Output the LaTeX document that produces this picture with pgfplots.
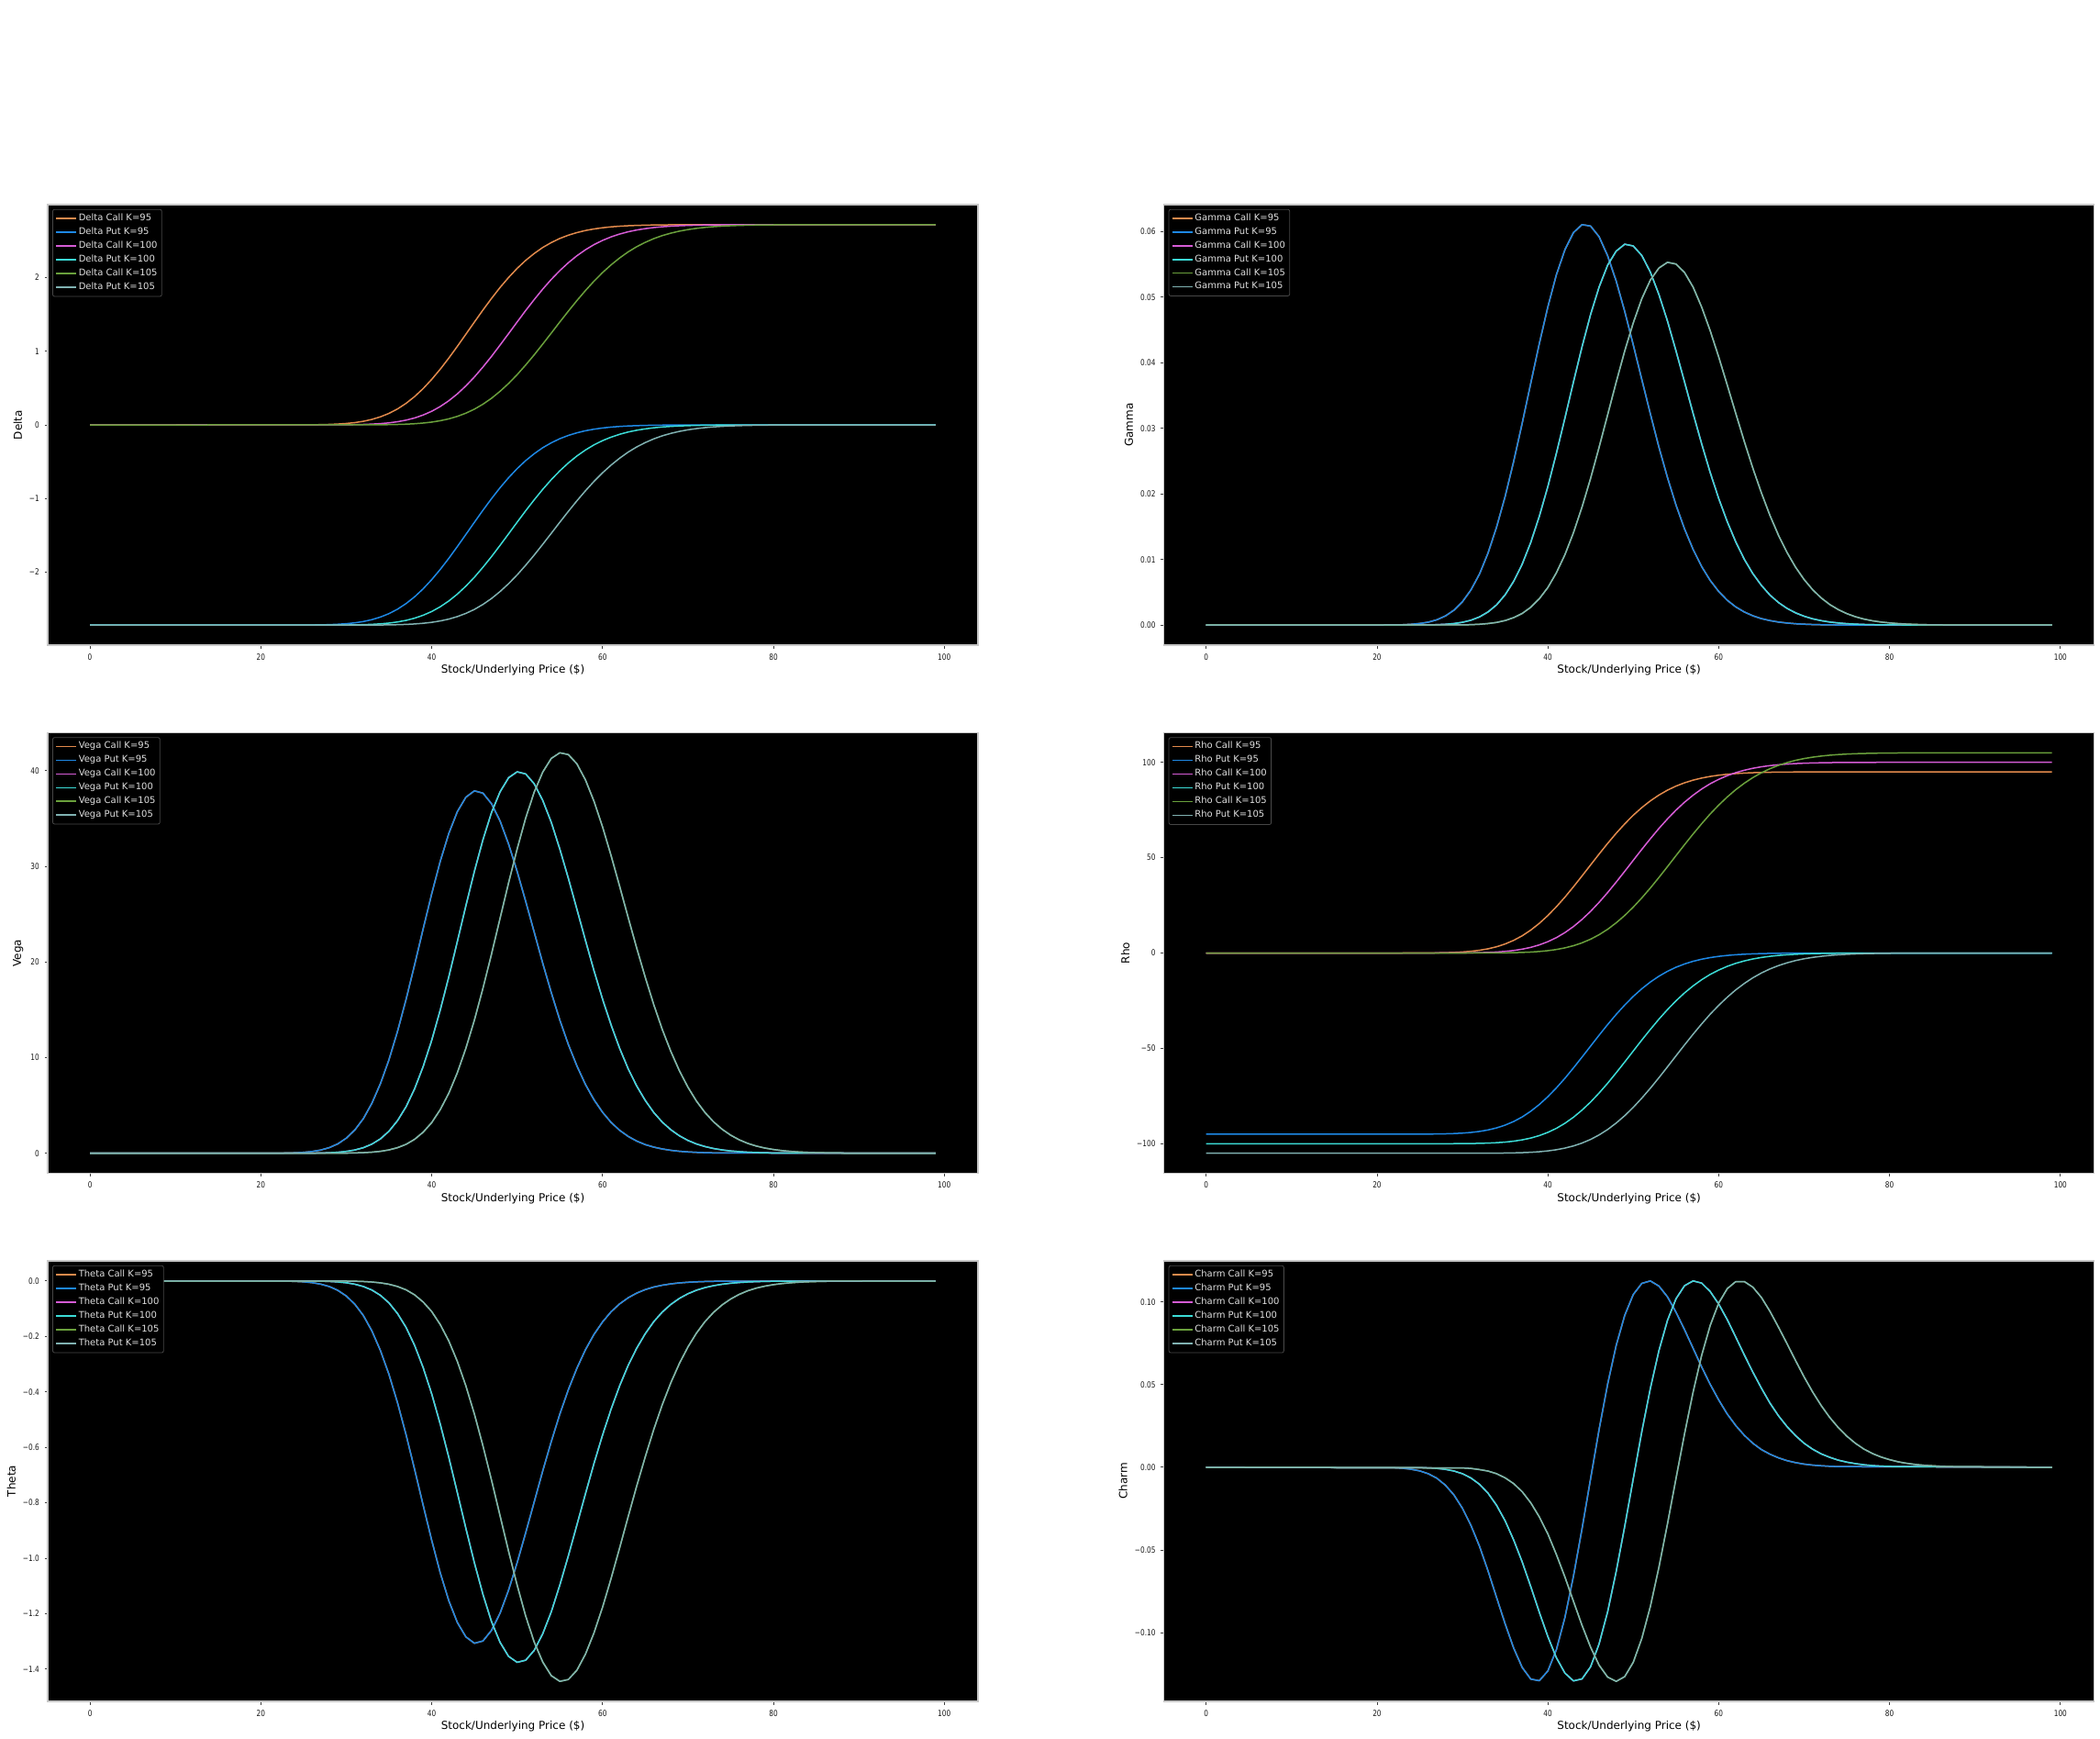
\documentclass[border=0pt]{standalone}
\usepackage{fontspec}
\setmainfont{DejaVu Sans}
\usepackage{pgfplots}
\usepackage{pgfplotstable}
\pgfplotsset{compat=1.18}

\definecolor{c1}{RGB}{226,138,76}
\definecolor{p1}{RGB}{30,136,229}
\definecolor{c2}{RGB}{214,92,214}
\definecolor{p2}{RGB}{60,220,215}
\definecolor{c3}{RGB}{106,160,60}
\definecolor{p3}{RGB}{128,178,178}

\newcommand\tickfont{\fontsize{4.6pt}{5pt}\selectfont}
\newcommand\legfont{\fontsize{5pt}{6pt}\selectfont}
\newcommand\labfont{\fontsize{6pt}{7pt}\selectfont}

% columns: x, delta call, delta put, gamma, vega, theta, rho call, rho put, charm
\pgfplotstableread{
x dc dp g v th rc rp ch
0 0 -2.7183 0 0 0 0 -95 0
22 0.0001 -2.7182 0.00003 0.010 -0.0004 0.003 -94.997 -0.0003
23 0.0002 -2.7181 0.00006 0.023 -0.0008 0.006 -94.994 -0.0006
24 0.0005 -2.7178 0.00013 0.048 -0.0017 0.012 -94.988 -0.0012
25 0.0010 -2.7173 0.00025 0.095 -0.0033 0.026 -94.974 -0.0022
26 0.0019 -2.7164 0.00045 0.181 -0.0062 0.051 -94.949 -0.0039
27 0.0036 -2.7147 0.00081 0.332 -0.0115 0.100 -94.900 -0.0066
28 0.0066 -2.7117 0.00139 0.583 -0.0201 0.186 -94.814 -0.0108
29 0.0115 -2.7068 0.00227 0.976 -0.0337 0.326 -94.674 -0.0167
30 0.0192 -2.6991 0.00356 1.574 -0.0543 0.554 -94.446 -0.0248
31 0.0312 -2.6871 0.00537 2.433 -0.0839 0.910 -94.090 -0.0352
32 0.0488 -2.6695 0.00779 3.615 -0.1247 1.442 -93.558 -0.0478
33 0.0743 -2.6440 0.01099 5.225 -0.1803 2.211 -92.789 -0.0627
34 0.1097 -2.6086 0.01495 7.279 -0.2511 3.287 -91.713 -0.0788
35 0.1561 -2.5622 0.01961 9.776 -0.3373 4.750 -90.250 -0.0947
36 0.2166 -2.5017 0.02496 12.74 -0.4394 6.652 -88.348 -0.1094
37 0.2925 -2.4258 0.03079 16.08 -0.5548 9.044 -85.956 -0.1211
38 0.3845 -2.3338 0.03687 19.70 -0.6797 12.03 -82.97 -0.1281
39 0.4929 -2.2254 0.04290 23.45 -0.8089 15.56 -79.44 -0.1291
40 0.6177 -2.1006 0.04850 27.11 -0.9352 19.66 -75.34 -0.1232
41 0.7559 -1.9624 0.05340 30.51 -1.0526 24.28 -70.72 -0.1103
42 0.9063 -1.8120 0.05722 33.42 -1.1530 29.31 -65.69 -0.0908
43 1.0660 -1.6523 0.05983 35.70 -1.2317 34.77 -60.23 -0.0658
44 1.2306 -1.4877 0.06103 37.21 -1.2837 40.42 -54.58 -0.0372
45 1.3960 -1.3223 0.06082 37.88 -1.3068 46.17 -48.83 -0.0070
46 1.5597 -1.1586 0.05919 37.64 -1.2986 51.92 -43.08 0.0229
47 1.7163 -1.0020 0.05628 36.54 -1.2605 57.49 -37.51 0.0503
48 1.8650 -0.8533 0.05243 34.74 -1.1986 62.81 -32.19 0.0737
49 2.0008 -0.7175 0.04780 32.32 -1.1152 67.74 -27.26 0.0919
50 2.1243 -0.5940 0.04270 29.47 -1.0165 72.27 -22.73 0.1045
51 2.2331 -0.4852 0.03742 26.34 -0.9087 76.27 -18.73 0.1112
52 2.3269 -0.3914 0.03219 23.11 -0.7972 79.80 -15.20 0.1127
53 2.4084 -0.3099 0.02713 19.86 -0.6852 82.83 -12.17 0.1096
54 2.4752 -0.2431 0.02250 16.79 -0.5792 85.40 -9.60 0.1031
55 2.5310 -0.1873 0.01830 13.92 -0.4802 87.54 -7.46 0.0938
56 2.5754 -0.1429 0.01466 11.36 -0.3921 89.26 -5.74 0.0832
57 2.6108 -0.1075 0.01155 9.126 -0.3148 90.66 -4.34 0.0720
58 2.6389 -0.0794 0.00893 7.187 -0.2480 91.75 -3.25 0.0607
59 2.6599 -0.0584 0.00682 5.591 -0.1929 92.60 -2.40 0.0502
60 2.6761 -0.0422 0.00513 4.286 -0.1479 93.25 -1.75 0.0407
61 2.6883 -0.0300 0.00379 3.223 -0.1112 93.74 -1.26 0.0322
62 2.6971 -0.0212 0.00277 2.399 -0.0828 94.11 -0.89 0.0252
63 2.7035 -0.0148 0.00200 1.762 -0.0608 94.37 -0.63 0.0193
64 2.7080 -0.0103 0.00142 1.271 -0.0439 94.56 -0.44 0.0145
65 2.7113 -0.0070 0.00099 0.904 -0.0312 94.70 -0.30 0.0107
66 2.7137 -0.0046 0.00069 0.639 -0.0220 94.80 -0.20 0.0079
67 2.7152 -0.0031 0.00047 0.447 -0.0154 94.87 -0.13 0.0057
68 2.7163 -0.0020 0.00032 0.307 -0.0106 94.91 -0.09 0.0040
69 2.7170 -0.0013 0.00021 0.205 -0.0071 94.94 -0.06 0.0028
70 2.7174 -0.0009 0.00014 0.139 -0.0048 94.96 -0.04 0.0019
71 2.7177 -0.0006 0.00009 0.093 -0.0032 94.97 -0.03 0.0013
72 2.7179 -0.0004 0.00006 0.061 -0.0021 94.98 -0.02 0.0009
73 2.7181 -0.0002 0.00004 0.039 -0.0014 94.99 -0.01 0.0006
74 2.7182 -0.0001 0.00002 0.025 -0.0009 94.99 -0.01 0.0004
99 2.7183 0 0 0 0 95 0 0
}\Ka

\pgfplotstableread{
x dc dp g v th rc rp ch
0 0 -2.7183 0 0 0 0 -100 0
26 0.0001 -2.7182 0.00003 0.013 -0.0004 0.003 -99.997 -0.00034
27 0.0002 -2.7181 0.00007 0.027 -0.0009 0.007 -99.993 -0.00068
28 0.0005 -2.7178 0.00013 0.055 -0.0019 0.014 -99.986 -0.00127
29 0.0010 -2.7173 0.00024 0.103 -0.0036 0.028 -99.972 -0.00226
30 0.0019 -2.7164 0.00043 0.191 -0.0066 0.054 -99.946 -0.0039
31 0.0035 -2.7148 0.00075 0.341 -0.0118 0.101 -99.899 -0.0065
32 0.0063 -2.7120 0.00125 0.581 -0.0201 0.184 -99.816 -0.0103
33 0.0106 -2.7077 0.00201 0.954 -0.0329 0.319 -99.681 -0.0157
34 0.0173 -2.7010 0.00309 1.505 -0.0519 0.529 -99.471 -0.0230
35 0.0277 -2.6906 0.00462 2.302 -0.0794 0.845 -99.155 -0.0324
36 0.0431 -2.6752 0.00668 3.409 -0.1176 1.326 -98.674 -0.0440
37 0.0645 -2.6538 0.00930 4.859 -0.1676 2.020 -97.980 -0.0573
38 0.0940 -2.6243 0.01261 6.736 -0.2324 2.964 -97.036 -0.0722
39 0.1340 -2.5843 0.01658 9.061 -0.3126 4.260 -95.740 -0.0877
40 0.1846 -2.5337 0.02112 11.80 -0.4072 5.948 -94.052 -0.1024
41 0.2492 -2.4691 0.02619 14.965 -0.5163 8.070 -91.930 -0.1152
42 0.3274 -2.3909 0.03156 18.43 -0.6359 10.72 -89.28 -0.1245
43 0.4208 -2.2975 0.03707 22.12 -0.7632 13.89 -86.11 -0.1292
44 0.5291 -2.1892 0.04241 25.86 -0.8920 17.62 -82.38 -0.1280
45 0.6504 -2.0679 0.04733 29.47 -1.0168 21.85 -78.15 -0.1207
46 0.7856 -1.9327 0.05153 32.77 -1.1305 26.59 -73.41 -0.1068
47 0.9298 -1.7885 0.05486 35.61 -1.2287 31.72 -68.28 -0.0874
48 1.0827 -1.6356 0.05700 37.77 -1.3032 37.20 -62.80 -0.0630
49 1.2391 -1.4792 0.05805 39.25 -1.3541 42.86 -57.14 -0.0357
50 1.3964 -1.3219 0.05778 39.87 -1.3755 48.63 -51.37 -0.0069
51 1.5521 -1.1662 0.05633 39.65 -1.3680 54.38 -45.62 0.0216
52 1.7010 -1.0173 0.05380 38.62 -1.3324 59.94 -40.06 0.0477
53 1.8433 -0.8750 0.05038 36.88 -1.2724 65.32 -34.68 0.0705
54 1.9752 -0.7431 0.04635 34.59 -1.1934 70.31 -29.69 0.0888
55 2.0948 -0.6235 0.04179 31.79 -1.0968 74.93 -25.07 0.1019
56 2.2019 -0.5164 0.03706 28.73 -0.9912 79.09 -20.91 0.1098
57 2.2962 -0.4221 0.03228 25.50 -0.8799 82.76 -17.24 0.1127
58 2.3773 -0.3410 0.02765 22.25 -0.7677 85.99 -14.01 0.1114
59 2.4471 -0.2712 0.02327 19.08 -0.6582 88.77 -11.23 0.1063
60 2.5046 -0.2137 0.01930 16.115 -0.5560 91.07 -8.93 0.0987
61 2.5520 -0.1663 0.01577 13.41 -0.4625 93.01 -6.99 0.0893
62 2.5906 -0.1277 0.01267 10.97 -0.3784 94.60 -5.40 0.0787
63 2.6217 -0.0966 0.01002 8.831 -0.3047 95.86 -4.14 0.0679
64 2.6457 -0.0726 0.00784 7.030 -0.2425 96.88 -3.12 0.0575
65 2.6642 -0.0541 0.00605 5.518 -0.1904 97.67 -2.33 0.0478
66 2.6789 -0.0394 0.00458 4.253 -0.1467 98.28 -1.72 0.0388
67 2.6899 -0.0284 0.00344 3.246 -0.1120 98.74 -1.26 0.0311
68 2.6977 -0.0206 0.00255 2.453 -0.0846 99.09 -0.91 0.0246
69 2.7037 -0.0146 0.00187 1.823 -0.0629 99.35 -0.65 0.0191
70 2.7080 -0.0103 0.00135 1.338 -0.0462 99.54 -0.46 0.0145
71 2.7111 -0.0072 0.00096 0.968 -0.0334 99.68 -0.32 0.0109
72 2.7134 -0.0049 0.00068 0.697 -0.0240 99.77 -0.23 0.0081
73 2.7150 -0.0033 0.00047 0.494 -0.0171 99.85 -0.15 0.0060
74 2.7161 -0.0022 0.00033 0.348 -0.0120 99.90 -0.10 0.0043
75 2.7168 -0.0015 0.00022 0.241 -0.0083 99.93 -0.07 0.0031
76 2.7173 -0.0010 0.00015 0.165 -0.0057 99.95 -0.05 0.0022
77 2.7176 -0.0007 0.00010 0.110 -0.0038 99.97 -0.03 0.0015
78 2.7178 -0.0005 0.00007 0.074 -0.0026 99.98 -0.02 0.0010
79 2.7180 -0.0003 0.00004 0.050 -0.0017 99.99 -0.01 0.0007
80 2.7181 -0.0002 0.00003 0.034 -0.0012 99.99 -0.01 0.0005
99 2.7183 0 0 0 0 100 0 0
}\Kb

\pgfplotstableread{
x dc dp g v th rc rp ch
0 0 -2.7183 0 0 0 0 -105 0
30 0.0001 -2.7182 0.00004 0.016 -0.0005 0.004 -104.996 -0.0004
31 0.0003 -2.7180 0.00007 0.032 -0.0011 0.008 -104.992 -0.0007
32 0.0005 -2.7178 0.00013 0.062 -0.0021 0.016 -104.984 -0.0014
33 0.0010 -2.7173 0.00024 0.113 -0.0039 0.030 -104.970 -0.0023
34 0.0019 -2.7164 0.00041 0.201 -0.0069 0.057 -104.943 -0.0039
35 0.0034 -2.7149 0.00070 0.349 -0.0120 0.103 -104.897 -0.0064
36 0.0060 -2.7123 0.00114 0.583 -0.0201 0.184 -104.816 -0.0099
37 0.0098 -2.7085 0.00178 0.931 -0.0321 0.311 -104.689 -0.0148
38 0.0158 -2.7025 0.00272 1.456 -0.0502 0.503 -104.497 -0.0215
39 0.0250 -2.6933 0.00402 2.199 -0.0759 0.798 -104.202 -0.0300
40 0.0378 -2.6805 0.00573 3.200 -0.1104 1.231 -103.769 -0.0403
41 0.0568 -2.6615 0.00798 4.558 -0.1573 1.846 -103.154 -0.0528
42 0.0817 -2.6366 0.01074 6.270 -0.2163 2.704 -102.296 -0.0664
43 0.1156 -2.6027 0.01409 8.410 -0.2901 3.834 -101.166 -0.0811
44 0.1591 -2.5592 0.01799 10.97 -0.3784 5.347 -99.653 -0.0956
45 0.2135 -2.5048 0.02235 13.92 -0.4802 7.235 -97.765 -0.1088
46 0.2810 -2.4373 0.02711 17.24 -0.5948 9.610 -95.390 -0.1197
47 0.3610 -2.3573 0.03206 20.81 -0.7180 12.45 -92.55 -0.1269
48 0.4556 -2.2627 0.03703 24.54 -0.8466 15.84 -89.16 -0.1295
49 0.5624 -2.1559 0.04179 28.26 -0.9749 19.71 -85.29 -0.1266
50 0.6815 -2.0368 0.04607 31.79 -1.0968 24.08 -80.92 -0.1179
51 0.8126 -1.9057 0.04976 35.03 -1.2085 28.91 -76.09 -0.1035
52 0.9510 -1.7673 0.05259 37.75 -1.3024 34.10 -70.90 -0.0842
53 1.0974 -1.6209 0.05442 39.84 -1.3745 39.61 -65.39 -0.0605
54 1.2465 -1.4718 0.05529 41.27 -1.4237 45.29 -59.71 -0.0343
55 1.3971 -1.3212 0.05503 41.86 -1.4443 51.08 -53.92 -0.0068
56 1.5446 -1.1737 0.05374 41.67 -1.4375 56.81 -48.19 0.0202
57 1.6878 -1.0305 0.05152 40.70 -1.4040 62.41 -42.59 0.0454
58 1.8238 -0.8945 0.04848 39.02 -1.3462 67.79 -37.21 0.0676
59 1.9513 -0.7670 0.04488 36.79 -1.2694 72.90 -32.10 0.0857
60 2.0678 -0.6505 0.04087 34.12 -1.1773 77.56 -27.44 0.0993
61 2.1725 -0.5458 0.03659 31.11 -1.0732 81.83 -23.17 0.1080
62 2.2662 -0.4521 0.03225 27.91 -0.9630 85.70 -19.30 0.1123
63 2.3488 -0.3695 0.02797 24.64 -0.8502 89.06 -15.94 0.1123
64 2.4189 -0.2994 0.02390 21.44 -0.7396 92.01 -12.99 0.1089
65 2.4782 -0.2401 0.02015 18.39 -0.6344 94.53 -10.47 0.1027
66 2.5287 -0.1896 0.01671 15.52 -0.5354 96.66 -8.34 0.0943
67 2.5702 -0.1481 0.01368 12.92 -0.4457 98.41 -6.59 0.0847
68 2.6032 -0.1151 0.01107 10.63 -0.3668 99.86 -5.14 0.0747
69 2.6303 -0.0880 0.00882 8.618 -0.2973 101.05 -3.95 0.0645
70 2.6515 -0.0668 0.00694 6.898 -0.2380 101.99 -3.01 0.0546
71 2.6683 -0.0500 0.00539 5.443 -0.1878 102.71 -2.29 0.0455
72 2.6813 -0.0370 0.00414 4.249 -0.1466 103.29 -1.71 0.0373
73 2.6911 -0.0272 0.00314 3.280 -0.1132 103.74 -1.26 0.0301
74 2.6985 -0.0198 0.00236 2.505 -0.0864 104.08 -0.92 0.0240
75 2.7040 -0.0143 0.00175 1.890 -0.0652 104.33 -0.67 0.0188
76 2.7080 -0.0103 0.00128 1.405 -0.0485 104.52 -0.48 0.0145
77 2.7110 -0.0073 0.00092 1.029 -0.0355 104.65 -0.35 0.0110
78 2.7132 -0.0051 0.00066 0.751 -0.0259 104.75 -0.25 0.0083
79 2.7148 -0.0035 0.00047 0.544 -0.0188 104.83 -0.17 0.0062
80 2.7159 -0.0024 0.00034 0.391 -0.0135 104.88 -0.12 0.0046
81 2.7167 -0.0016 0.00023 0.276 -0.0095 104.92 -0.08 0.0033
82 2.7172 -0.0011 0.00016 0.194 -0.0067 104.95 -0.05 0.0024
83 2.7175 -0.0008 0.00011 0.134 -0.0046 104.96 -0.04 0.0017
84 2.7178 -0.0005 0.00007 0.092 -0.0032 104.98 -0.02 0.0012
85 2.7180 -0.0003 0.00005 0.063 -0.0022 104.98 -0.02 0.0009
86 2.7181 -0.0002 0.00003 0.042 -0.0015 104.99 -0.01 0.0006
87 2.7182 -0.0001 0.00002 0.029 -0.0010 104.99 -0.01 0.0004
88 2.7182 -0.0001 0.00001 0.019 -0.0007 105.00 0.00 0.0003
99 2.7183 0 0 0 0 105 0 0
}\Kc

\pgfplotsset{
  gstyle/.style={
    scale only axis, width=507pt, height=240pt,
    xmin=-4.95, xmax=103.95,
    scaled x ticks=false, scaled y ticks=false,
    axis background/.style={fill=black},
    axis line style={draw=black!22, line width=0.6pt},
    tick pos=left, tick align=outside,
    major tick length=1.75pt,
    every tick/.style={black!75, line width=0.4pt},
    xtick={0,20,40,60,80,100},
    xticklabels={0,20,40,60,80,100},
    tick label style={font=\tickfont, text=black!90, xscale=0.8},
    xticklabel style={yshift=0.5pt},
    xlabel={Stock/Underlying Price (\$)},
    xlabel shift=-4.4pt,
    ylabel shift=-2.2pt,
    label style={font=\labfont, text=black},
    legend style={at={(0.005,0.99)}, anchor=north west, fill=black,
      draw=black!72, text=white!88!black, font=\legfont, rounded corners=1pt,
      inner xsep=1.5pt, inner ysep=1.4pt, row sep=0.4pt,
      nodes={inner sep=0.9pt}},
    legend cell align=left,
    legend image code/.code={\draw[##1, line width=0.75pt] (0pt,0pt) -- (11pt,0pt);},
  },
  gp/.style={line width=0.75pt, line join=round, mark=none},
}

\begin{document}
\begin{tikzpicture}
\useasboundingbox (0,0) rectangle (1144.5pt,-947pt);

% Delta
\begin{axis}[gstyle, at={(26pt,-111.5pt)}, anchor=north west,
  ymin=-2.990, ymax=2.990, ytick={-2,-1,0,1,2}, yticklabels={−2,−1,0,1,2}, ylabel={Delta}]
\addplot[gp,c1] table[x=x,y=dc]{\Ka}; \addlegendentry{Delta Call K=95}
\addplot[gp,p1] table[x=x,y=dp]{\Ka}; \addlegendentry{Delta Put K=95}
\addplot[gp,c2] table[x=x,y=dc]{\Kb}; \addlegendentry{Delta Call K=100}
\addplot[gp,p2] table[x=x,y=dp]{\Kb}; \addlegendentry{Delta Put K=100}
\addplot[gp,c3] table[x=x,y=dc]{\Kc}; \addlegendentry{Delta Call K=105}
\addplot[gp,p3] table[x=x,y=dp]{\Kc}; \addlegendentry{Delta Put K=105}
\end{axis}

% Gamma
\begin{axis}[gstyle, at={(634.3pt,-111.5pt)}, anchor=north west,
  ymin=-0.00305, ymax=0.06408, ytick={0,0.01,0.02,0.03,0.04,0.05,0.06},
  yticklabels={0.00,0.01,0.02,0.03,0.04,0.05,0.06}, ylabel={Gamma}]
\addplot[gp,c1] table[x=x,y=g]{\Ka}; \addlegendentry{Gamma Call K=95}
\addplot[gp,p1] table[x=x,y=g]{\Ka}; \addlegendentry{Gamma Put K=95}
\addplot[gp,c2] table[x=x,y=g]{\Kb}; \addlegendentry{Gamma Call K=100}
\addplot[gp,p2] table[x=x,y=g]{\Kb}; \addlegendentry{Gamma Put K=100}
\addplot[gp,c3] table[x=x,y=g]{\Kc}; \addlegendentry{Gamma Call K=105}
\addplot[gp,p3] table[x=x,y=g]{\Kc}; \addlegendentry{Gamma Put K=105}
\end{axis}

% Vega
\begin{axis}[gstyle, at={(26pt,-399.25pt)}, anchor=north west,
  ymin=-2.093, ymax=43.95, ytick={0,10,20,30,40}, yticklabels={0,10,20,30,40}, ylabel={Vega}]
\addplot[gp,c1] table[x=x,y=v]{\Ka}; \addlegendentry{Vega Call K=95}
\addplot[gp,p1] table[x=x,y=v]{\Ka}; \addlegendentry{Vega Put K=95}
\addplot[gp,c2] table[x=x,y=v]{\Kb}; \addlegendentry{Vega Call K=100}
\addplot[gp,p2] table[x=x,y=v]{\Kb}; \addlegendentry{Vega Put K=100}
\addplot[gp,c3] table[x=x,y=v]{\Kc}; \addlegendentry{Vega Call K=105}
\addplot[gp,p3] table[x=x,y=v]{\Kc}; \addlegendentry{Vega Put K=105}
\end{axis}

% Rho
\begin{axis}[gstyle, at={(634.3pt,-399.25pt)}, anchor=north west,
  ymin=-115.5, ymax=115.5, ytick={-100,-50,0,50,100}, yticklabels={−100,−50,0,50,100}, ylabel={Rho}]
\addplot[gp,c1] table[x=x,y=rc]{\Ka}; \addlegendentry{Rho Call K=95}
\addplot[gp,p1] table[x=x,y=rp]{\Ka}; \addlegendentry{Rho Put K=95}
\addplot[gp,c2] table[x=x,y=rc]{\Kb}; \addlegendentry{Rho Call K=100}
\addplot[gp,p2] table[x=x,y=rp]{\Kb}; \addlegendentry{Rho Put K=100}
\addplot[gp,c3] table[x=x,y=rc]{\Kc}; \addlegendentry{Rho Call K=105}
\addplot[gp,p3] table[x=x,y=rp]{\Kc}; \addlegendentry{Rho Put K=105}
\end{axis}

% Theta
\begin{axis}[gstyle, at={(26pt,-687pt)}, anchor=north west,
  ymin=-1.5165, ymax=0.0722, ytick={-1.4,-1.2,-1.0,-0.8,-0.6,-0.4,-0.2,0},
  yticklabels={−1.4,−1.2,−1.0,−0.8,−0.6,−0.4,−0.2,0.0}, ylabel={Theta}]
\addplot[gp,c1] table[x=x,y=th]{\Ka}; \addlegendentry{Theta Call K=95}
\addplot[gp,p1] table[x=x,y=th]{\Ka}; \addlegendentry{Theta Put K=95}
\addplot[gp,c2] table[x=x,y=th]{\Kb}; \addlegendentry{Theta Call K=100}
\addplot[gp,p2] table[x=x,y=th]{\Kb}; \addlegendentry{Theta Put K=100}
\addplot[gp,c3] table[x=x,y=th]{\Kc}; \addlegendentry{Theta Call K=105}
\addplot[gp,p3] table[x=x,y=th]{\Kc}; \addlegendentry{Theta Put K=105}
\end{axis}

% Charm
\begin{axis}[gstyle, at={(634.3pt,-687pt)}, anchor=north west,
  ymin=-0.1416, ymax=0.1248, ytick={-0.1,-0.05,0,0.05,0.1},
  yticklabels={−0.10,−0.05,0.00,0.05,0.10}, ylabel={Charm}]
\addplot[gp,c1] table[x=x,y=ch]{\Ka}; \addlegendentry{Charm Call K=95}
\addplot[gp,p1] table[x=x,y=ch]{\Ka}; \addlegendentry{Charm Put K=95}
\addplot[gp,c2] table[x=x,y=ch]{\Kb}; \addlegendentry{Charm Call K=100}
\addplot[gp,p2] table[x=x,y=ch]{\Kb}; \addlegendentry{Charm Put K=100}
\addplot[gp,c3] table[x=x,y=ch]{\Kc}; \addlegendentry{Charm Call K=105}
\addplot[gp,p3] table[x=x,y=ch]{\Kc}; \addlegendentry{Charm Put K=105}
\end{axis}
\end{tikzpicture}
\end{document}
